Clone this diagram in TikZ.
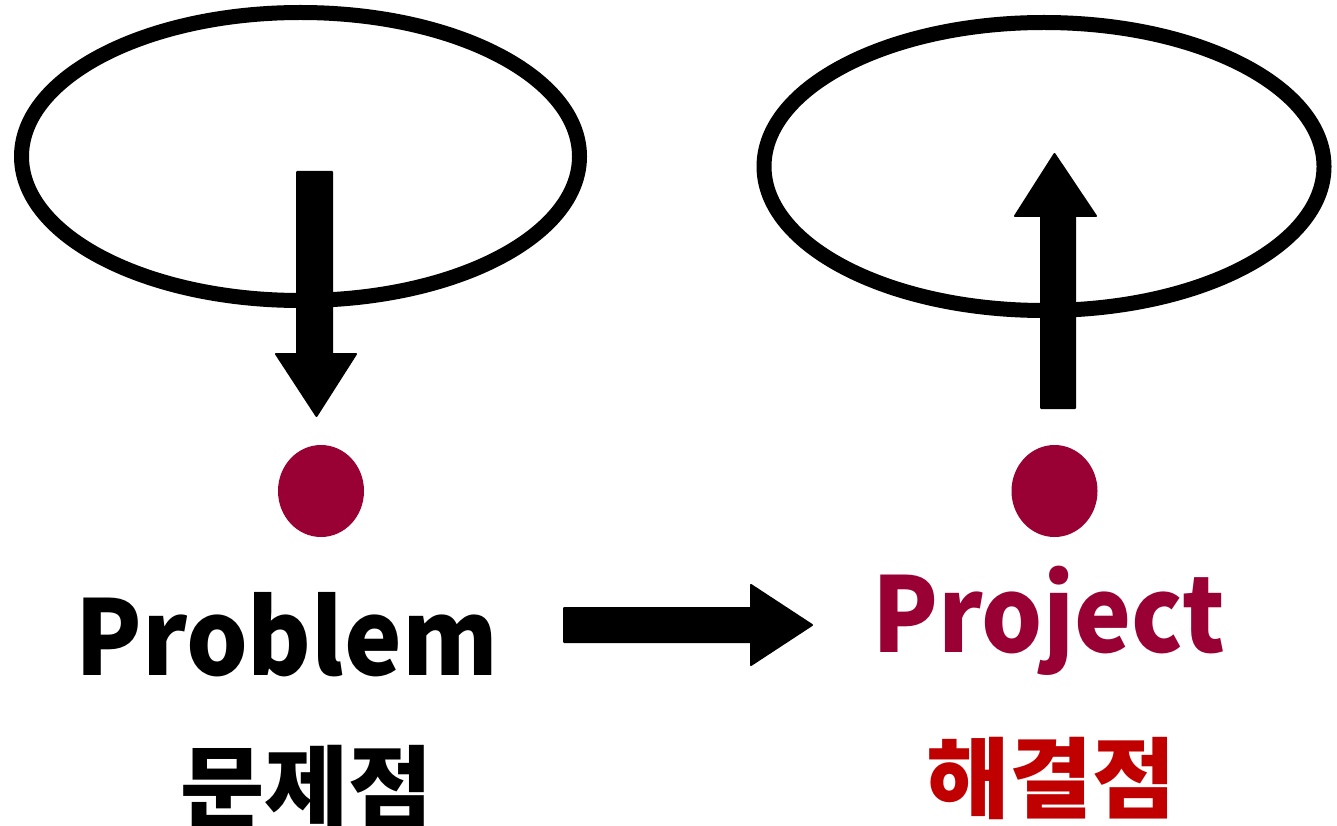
\documentclass[tikz,border=0pt]{standalone}
\usepackage{fontspec}
\usepackage{graphicx}
\newfontfamily\kr{Noto Sans CJK KR}
\definecolor{wine}{HTML}{990033}
\definecolor{redk}{HTML}{C00000}
\begin{document}
\begin{tikzpicture}[x=1pt,y=-1pt,
  ring/.style={draw=black,line width=15pt},
  blockarrow/.style={fill=black,draw=black,line width=2pt,line join=round},
  dot/.style={fill=wine,draw=none},
  word/.style={font=\kr\bfseries\fontsize{104}{110}\selectfont,inner sep=0pt,anchor=base west},
  hangul/.style={font=\kr\bfseries\fontsize{88}{96}\selectfont,inner sep=0pt,anchor=base west}]
\useasboundingbox (0,0) rectangle (1337,826);
% ellipses
\draw[ring] (300.5,156.5) ellipse [x radius=279, y radius=144];
\draw[ring] (1044,166.5) ellipse [x radius=280, y radius=144];
% down arrow
\fill[blockarrow] (297,172) -- (332,172) -- (332,354) -- (356,354) -- (316.5,416) -- (276,354) -- (297,354) -- cycle;
% up arrow
\fill[blockarrow] (1041,408) -- (1075,408) -- (1075,216) -- (1096,216) -- (1054.5,154) -- (1015,216) -- (1041,216) -- cycle;
% dots
\fill[dot] (321,491) ellipse [x radius=43, y radius=46];
\fill[dot] (1054.5,491) ellipse [x radius=43, y radius=46];
% right arrow
\fill[blockarrow] (564,608) -- (751,608) -- (751,585) -- (812,625) -- (751,665) -- (751,642) -- (564,642) -- cycle;
% texts
\node[word] (problem) at (75,675) {\scalebox{0.935}[1]{Problem}};
\node[word,text=wine] (project) at (872,652) {\scalebox{0.925}[1]{Project}};
\node[hangul] (mjj) at (180,819) {\scalebox{1.04}[1]{문제점}};
\node[hangul,text=redk] (hgj) at (926,811) {\scalebox{1.03}[1]{해결점}};
\end{tikzpicture}
\end{document}
